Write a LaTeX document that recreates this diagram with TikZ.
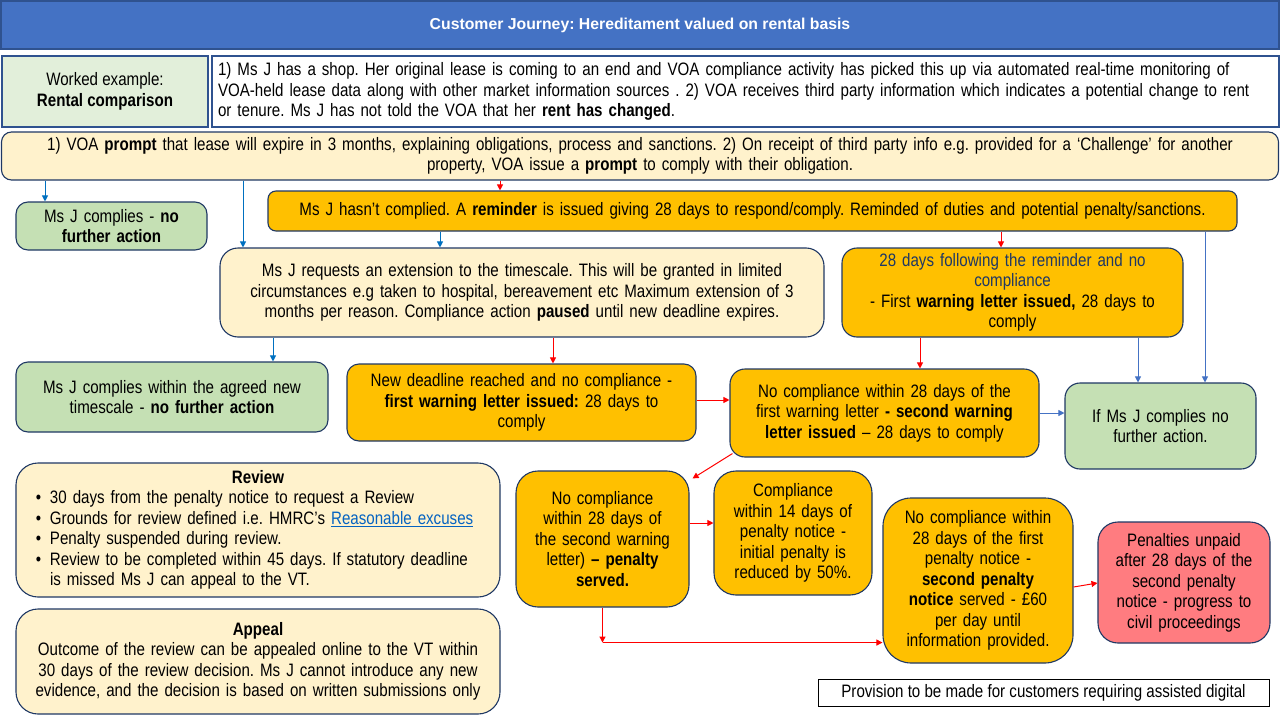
\documentclass[tikz,border=0pt]{standalone}
\usepackage{fontspec}
\setmainfont{Liberation Sans}[FakeStretch=0.84]
\newfontfamily\headfont{Liberation Sans}
\usetikzlibrary{arrows.meta}
\frenchspacing

\definecolor{headblue}{HTML}{4472C4}
\definecolor{headline}{HTML}{2F528F}
\definecolor{navy}{HTML}{1F3864}
\definecolor{paleyellow}{HTML}{FFF2CC}
\definecolor{palegreen}{HTML}{E2EFDA}
\definecolor{okgreen}{HTML}{C5E0B4}
\definecolor{amber}{HTML}{FFC000}
\definecolor{alertred}{HTML}{FF7C80}
\definecolor{arrowblue}{HTML}{0070C0}
\definecolor{softblue}{HTML}{4472C4}
\definecolor{linkblue}{HTML}{0563C1}

\tikzset{
  box/.style={draw=navy, line width=1.1pt, align=center, inner sep=4pt},
  notebox/.style={box, fill=paleyellow},
  okbox/.style={box, fill=okgreen},
  warnbox/.style={box, fill=amber},
  redarrow/.style={draw=red, line width=1pt, -{Triangle[length=6pt,width=6pt]}},
  bluearrow/.style={draw=arrowblue, line width=1pt, -{Triangle[length=6pt,width=6pt]}},
  softarrow/.style={draw=softblue, line width=1pt, -{Triangle[length=6pt,width=6pt]}}
}

\begin{document}
\begin{tikzpicture}[x=1pt, y=-1pt, font=\fontsize{18}{20.5}\selectfont]

      \useasboundingbox (0,0) rectangle (1280,720);

      % header
      \node[draw=headline, line width=1.1pt, fill=headblue, minimum width=1278, minimum height=48,
            text=white, font=\headfont\bfseries\fontsize{15.8}{19}\selectfont] (title) at (640,25)
        {Customer Journey: Hereditament valued on rental basis};

      % worked example
      \node[draw=headline, line width=1.1pt, fill=palegreen, align=center,
            minimum width=206, minimum height=71] (worked) at (105,91.5)
        {Worked example:\\ \textbf{Rental comparison}};
      \node[draw=headline, line width=1.1pt, fill=white, align=left, text width=1055,
            minimum width=1067, minimum height=71] (story) at (745.5,91.5)
        {1) Ms J has a shop. Her original lease is coming to an end and VOA compliance activity has picked this up via automated real-time monitoring of\\
         VOA-held lease data along with other market information sources . 2) VOA receives third party information which indicates a potential change to rent\\
         or tenure.  Ms J has not told the VOA that her \textbf{rent has changed}.};

      \begin{scope}[every node/.append style={rounded corners=12pt}]
        \node[notebox, rounded corners=10pt, minimum width=1277, minimum height=48, text width=1265] (prompt) at (640,156)
          {1) VOA \textbf{prompt} that lease will expire in 3 months, explaining obligations, process and sanctions. 2) On receipt of third party info e.g. provided for a ‘Challenge’ for another\\
           property, VOA issue a \textbf{prompt} to comply with their obligation.};

        \node[okbox, minimum width=191, minimum height=48, text width=181] (comply1) at (111.5,226)
          {Ms J complies - \textbf{no}\\ \textbf{further action}};
        \node[warnbox, rounded corners=8pt, minimum width=969, minimum height=40, text width=957] (reminder) at (752.5,211)
          {Ms J hasn’t complied. A \textbf{reminder} is issued giving 28 days to respond/comply. Reminded of duties and potential penalty/sanctions.};

        \node[notebox, rounded corners=18pt, minimum width=604, minimum height=89, text width=590] (extend) at (522,292.5)
          {Ms J requests an extension to the timescale. This will be granted in limited\\
           circumstances e.g taken to hospital, bereavement etc  Maximum extension of 3\\
           months per reason. Compliance action \textbf{paused} until new deadline expires.};
        \node[warnbox, rounded corners=15pt, minimum width=341, minimum height=89, text width=329] (first) at (1012.5,292.5)
          {\textcolor{navy}{28 days following the reminder and no}\\ \textcolor{navy}{compliance}\\
           - First \textbf{warning letter issued,} 28 days to\\ comply};

        \node[okbox, minimum width=312, minimum height=70, text width=300] (comply2) at (172,397)
          {Ms J complies within the agreed new\\ timescale - \textbf{no further action}};
        \node[warnbox, minimum width=349, minimum height=77, text width=337] (deadline) at (521.5,402.5)
          {New deadline reached and no compliance -\\ \textbf{first warning letter issued:} 28 days to\\ comply};
        \node[warnbox, rounded corners=15pt, minimum width=309, minimum height=88, text width=297] (second) at (884.5,413)
          {No compliance within 28 days of the\\ first warning letter \textbf{- second warning}\\ \textbf{letter issued} – 28 days to comply};
        \node[okbox, rounded corners=15pt, minimum width=191, minimum height=86, text width=179] (comply3) at (1160.5,426)
          {If Ms J complies no\\ further  action.};

        \node[notebox, rounded corners=22pt, minimum width=484, minimum height=134, text width=444, align=left] (review) at (258,530)
          {\centerline{\textbf{Review}}
           \makebox[14pt][l]{•}30 days from the penalty notice to request a Review\\
           \makebox[14pt][l]{•}Grounds for review defined i.e. HMRC’s \textcolor{linkblue}{\underline{Reasonable excuses}}\\
           \makebox[14pt][l]{•}Penalty suspended during review.\\
           \makebox[14pt][l]{•}Review to be completed within 45 days. If statutory deadline\\
           \makebox[14pt][l]{}is missed Ms J can appeal to the VT.};
        \node[notebox, rounded corners=22pt, minimum width=484, minimum height=105, text width=472] (appeal) at (258,661.5)
          {\textbf{Appeal}\\ Outcome of the review can be appealed online to the VT within\\
           30 days of the review decision. Ms J cannot introduce any new\\
           evidence, and the decision is based on written submissions only};

        \node[warnbox, rounded corners=22pt, minimum width=173, minimum height=136, text width=163] (penalty) at (602.5,539)
          {No compliance\\ within 28 days of\\ the second warning\\ letter) \textbf{– penalty}\\ \textbf{served.}};
        \node[warnbox, rounded corners=22pt, minimum width=158, minimum height=124, text width=148] (reduced) at (793,533)
          {Compliance\\ within 14 days of\\ penalty notice -\\ initial penalty is\\ reduced by 50\%.};
        \node[warnbox, rounded corners=28pt, minimum width=190, minimum height=165, text width=180] (penalty2) at (978,580.5)
          {No compliance within\\ 28 days of the first\\ penalty notice -\\ \textbf{second penalty}\\ \textbf{notice} served - £60\\ per day until\\ information provided.};
        \node[box, fill=alertred, rounded corners=20pt, minimum width=172, minimum height=121, text width=162] (unpaid) at (1184,582.5)
          {Penalties unpaid\\ after 28 days of the\\ second penalty\\ notice - progress to\\ civil proceedings};
      \end{scope}

      \node[draw=black, line width=1pt, minimum width=451, minimum height=27] (assist) at (1043.5,692.5)
        {Provision to be made for customers requiring assisted digital};

      % connectors
      \coordinate (dl) at ([yshift=2.5]deadline.east);
      \coordinate (pe) at ([yshift=16]penalty.east);
      \draw[bluearrow] ([xshift=-66.5]comply1.north |- prompt.south) -- ([xshift=-66.5]comply1.north);
      \draw[bluearrow] ([xshift=-279]extend.north |- prompt.south) -- ([xshift=-279]extend.north);
      \draw[redarrow]  ([xshift=-252.5]reminder.north |- prompt.south) -- ([xshift=-252.5]reminder.north);
      \draw[bluearrow] ([xshift=-82]extend.north |- reminder.south) -- ([xshift=-82]extend.north);
      \draw[redarrow]  ([xshift=-11.5]first.north |- reminder.south) -- ([xshift=-11.5]first.north);
      \draw[softarrow] ([xshift=44.5]comply3.north |- reminder.south) -- ([xshift=44.5]comply3.north);
      \draw[bluearrow] ([xshift=101]comply2.north |- extend.south) -- ([xshift=101]comply2.north);
      \draw[redarrow]  ([xshift=31.5]deadline.north |- extend.south) -- ([xshift=31.5]deadline.north);
      \draw[redarrow]  ([xshift=35.5]second.north |- first.south) -- ([xshift=35.5]second.north);
      \draw[softarrow] ([xshift=-22.5]comply3.north |- first.south) -- ([xshift=-22.5]comply3.north);
      \draw[redarrow]  (dl) -- (second.west |- dl);
      \draw[softarrow] (second.east) -- (comply3.west |- second.east);
      \draw[redarrow]  ([xshift=3,yshift=4]second.south west) -- ([xshift=3,yshift=-8]penalty.north east);
      \draw[redarrow]  (pe) -- (reduced.west |- pe);
      \draw[redarrow]  (penalty.south) -- ++(0,35) coordinate (turn);
      \draw[redarrow]  (turn) -- (penalty2.west |- turn);
      \draw[redarrow]  ([yshift=-6.5]penalty2.east) -- ([yshift=-0.5]unpaid.west);

    \end{tikzpicture}
\end{document}
